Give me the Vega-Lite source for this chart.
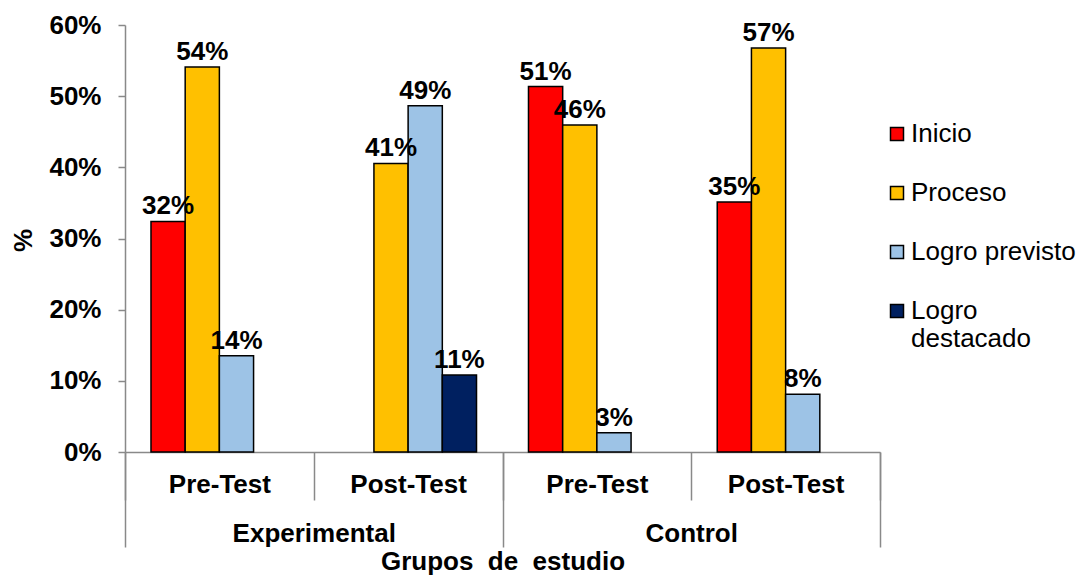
{
  "$schema": "https://vega.github.io/schema/vega-lite/v6.json",
  "autosize": {"type": "none"},
  "width": 755,
  "height": 427,
  "padding": {"left": 125, "top": 25, "right": 197, "bottom": 128},
  "background": "white",
  "config": {"font": "Liberation Sans", "view": {"stroke": null}, "axis": {"grid": false}},
  "data": {"values": [
    {"grupo": "Experimental", "test": "Pre-Test", "nivel": "Inicio", "valor": 0.324},
    {"grupo": "Experimental", "test": "Pre-Test", "nivel": "Proceso", "valor": 0.541},
    {"grupo": "Experimental", "test": "Pre-Test", "nivel": "Logro previsto", "valor": 0.1351},
    {"grupo": "Experimental", "test": "Post-Test", "nivel": "Proceso", "valor": 0.4054},
    {"grupo": "Experimental", "test": "Post-Test", "nivel": "Logro previsto", "valor": 0.4865},
    {"grupo": "Experimental", "test": "Post-Test", "nivel": "Logro destacado", "valor": 0.1081},
    {"grupo": "Control", "test": "Pre-Test", "nivel": "Inicio", "valor": 0.5135},
    {"grupo": "Control", "test": "Pre-Test", "nivel": "Proceso", "valor": 0.4595},
    {"grupo": "Control", "test": "Pre-Test", "nivel": "Logro previsto", "valor": 0.027},
    {"grupo": "Control", "test": "Post-Test", "nivel": "Inicio", "valor": 0.3514},
    {"grupo": "Control", "test": "Post-Test", "nivel": "Proceso", "valor": 0.5676},
    {"grupo": "Control", "test": "Post-Test", "nivel": "Logro previsto", "valor": 0.0811}
  ]},
  "transform": [{"calculate": "datum.grupo + '|' + datum.test", "as": "clave"}],
  "layer": [
    {
      "encoding": {
        "x": {
          "field": "clave", "type": "nominal",
          "scale": {"domain": ["Experimental|Pre-Test", "Experimental|Post-Test", "Control|Pre-Test", "Control|Post-Test"], "paddingInner": 0, "paddingOuter": 0},
          "axis": {
            "title": null, "orient": "bottom",
            "labelExpr": "split(datum.label, '|')[1]",
            "tickBand": "extent", "tickSize": 48, "tickColor": "#898989", "tickWidth": 1.5,
            "domainColor": "#898989", "domainWidth": 1.5,
            "labelFontSize": 26, "labelFontWeight": "bold", "labelColor": "black",
            "labelPadding": -29, "labelAngle": 0, "labelBaseline": "top"
          }
        },
        "xOffset": {
          "field": "nivel", "type": "nominal",
          "scale": {"domain": ["Inicio", "Proceso", "Logro previsto", "Logro destacado"], "paddingInner": 0, "paddingOuter": 0.76}
        },
        "y": {
          "field": "valor", "type": "quantitative",
          "scale": {"domain": [0, 0.6], "nice": false},
          "axis": {
            "values": [0, 0.1, 0.2, 0.3, 0.4, 0.5, 0.6], "format": ".0%",
            "title": "%", "titleFontSize": 26, "titleFontWeight": "bold", "titleColor": "black",
            "titleAngle": -90, "titleX": -102, "titleY": 215, "titleBaseline": "middle", "titleAlign": "center",
            "labelFontSize": 26, "labelFontWeight": "bold", "labelColor": "black", "labelPadding": 17,
            "tickSize": 7, "tickColor": "#898989", "tickWidth": 1.5,
            "domainColor": "#898989", "domainWidth": 1.5
          }
        }
      },
      "layer": [
        {
          "mark": {"type": "bar", "stroke": "black", "strokeWidth": 1.5},
          "encoding": {
            "color": {
              "field": "nivel", "type": "nominal",
              "scale": {"domain": ["Inicio", "Proceso", "Logro previsto", "Logro destacado"], "range": ["#FF0000", "#FFC000", "#9DC3E6", "#002060"]},
              "legend": {
                "title": null, "orient": "none", "legendX": 759, "legendY": 96,
                "symbolType": "square", "symbolSize": 169, "symbolStrokeColor": "black", "symbolStrokeWidth": 1.5,
                "labelFontSize": 26, "labelColor": "black", "labelOffset": 1, "rowPadding": 33, "labelLimit": 0,
                "labelExpr": "datum.label == 'Logro destacado' ? ['Logro', 'destacado'] : datum.label"
              }
            }
          }
        },
        {
          "mark": {"type": "text", "baseline": "bottom", "dy": -2, "fontSize": 26, "fontWeight": "bold", "color": "black"},
          "encoding": {
            "text": {"field": "valor", "type": "quantitative", "format": ".0%"}
          }
        }
      ]
    },
    {
      "mark": {"type": "bar", "opacity": 0},
      "encoding": {
        "x": {
          "field": "grupo", "type": "nominal",
          "scale": {"domain": ["Experimental", "Control"], "paddingInner": 0, "paddingOuter": 0},
          "axis": {
            "orient": "bottom", "title": "Grupos\u00a0 de\u00a0 estudio", "titleFontSize": 26, "titleFontWeight": "bold", "titleColor": "black", "titlePadding": 1,
            "domain": false, "tickBand": "extent", "tickSize": 95, "tickColor": "#898989", "tickWidth": 1.5,
            "labelFontSize": 26, "labelFontWeight": "bold", "labelColor": "black",
            "labelPadding": -27, "labelAngle": 0, "labelBaseline": "top"
          }
        }
      }
    }
  ],
  "resolve": {"scale": {"x": "independent"}, "axis": {"x": "independent"}}
}
